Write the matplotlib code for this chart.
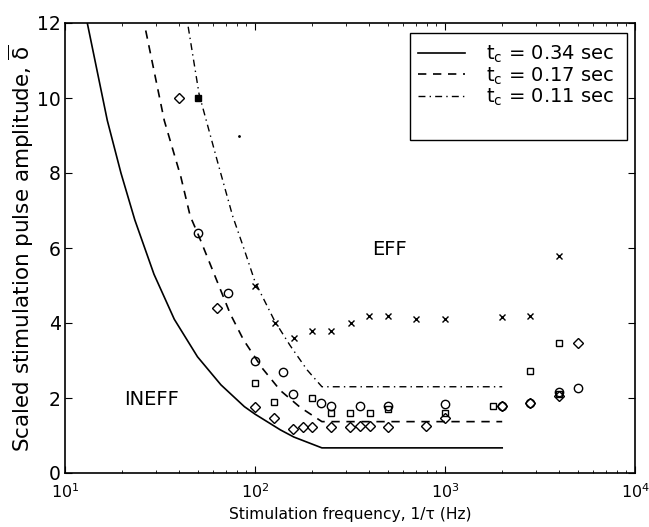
import matplotlib
matplotlib.use("Agg")
import matplotlib.pyplot as plt
from matplotlib.patches import Rectangle
from matplotlib.ticker import LogLocator, FixedLocator

plt.rcParams['font.family'] = ['DejaVu Sans']
plt.rcParams['mathtext.default'] = 'regular'

# threshold curves
solid_x = [13.1, 16.7, 19.7, 23.3, 29.4, 37.6, 49.8, 66.2, 87.9, 100, 136, 160, 225, 2000]
solid_y = [12.0, 9.4, 8.0, 6.75, 5.3, 4.1, 3.1, 2.35, 1.77, 1.57, 1.15, 0.96, 0.67, 0.67]

dashed_x = [26.6, 33.3, 40.7, 45.6, 50.8, 74, 87, 109, 136, 173, 225, 2000]
dashed_y = [11.8, 9.4, 7.9, 6.85, 6.3, 4.25, 3.55, 2.8, 2.2, 1.75, 1.37, 1.37]

dashdot_x = [44.5, 50.8, 63.5, 76.3, 87.9, 100, 127, 153, 188, 225, 2000]
dashdot_y = [11.9, 10.1, 8.3, 6.85, 5.95, 5.1, 4.05, 3.4, 2.75, 2.3, 2.3]

# measured points
cross_x = [100, 127, 160, 200, 250, 320, 400, 500, 700, 1000, 2000, 2800, 4000]
cross_y = [5.0, 4.0, 3.6, 3.8, 3.8, 4.0, 4.2, 4.2, 4.1, 4.1, 4.15, 4.2, 5.8]

circle_x = [50, 72, 100, 141, 158, 223, 251, 356, 500, 1000, 2000, 2800, 4000, 5000]
circle_y = [6.4, 4.8, 3.0, 2.7, 2.1, 1.88, 1.8, 1.8, 1.8, 1.84, 1.8, 1.87, 2.17, 2.27]

square_x = [100, 126, 200, 251, 318, 401, 500, 1000, 1780, 2800, 4000, 4000]
square_y = [2.4, 1.9, 2.0, 1.6, 1.6, 1.6, 1.7, 1.6, 1.78, 2.72, 3.47, 2.12]

diamond_x = [40, 63, 100, 126, 158, 178, 200, 251, 318, 356, 401, 500, 790, 1000, 2000, 2800, 4000, 5000]
diamond_y = [10.0, 4.4, 1.75, 1.48, 1.17, 1.22, 1.22, 1.22, 1.24, 1.25, 1.25, 1.24, 1.25, 1.46, 1.78, 1.87, 2.05, 3.46]

filled_x = [50]
filled_y = [10.0]

dot_x = [82]
dot_y = [9.0]

labels = ['t$_c$ = 0.34 sec', 't$_c$ = 0.17 sec', 't$_c$ = 0.11 sec']

fig = plt.figure(figsize=(6.49, 5.27), dpi=100)
ax = fig.add_axes([65 / 649, 1 - 473 / 527, 570 / 649, 450 / 527])

ax.plot(solid_x, solid_y, '-', color='black', lw=1.2, label=labels[0])
ax.plot(dashed_x, dashed_y, '--', color='black', lw=1.2, dashes=(5, 4), label=labels[1])
ax.plot(dashdot_x, dashdot_y, '-.', color='black', lw=1.0, dashes=(5, 3, 1, 3), label=labels[2])

mk = dict(linestyle='none', color='black', mfc='none', mew=1.0)
ax.plot(cross_x, cross_y, marker='x', ms=4.5, **mk)
ax.plot(circle_x, circle_y, marker='o', ms=6, **mk)
ax.plot(square_x, square_y, marker='s', ms=5, **mk)
ax.plot(diamond_x, diamond_y, marker='D', ms=5, **mk)
ax.plot(filled_x, filled_y, 's', color='black', ms=5)
ax.plot(dot_x, dot_y, '.', color='black', ms=2)

ax.text(28.6, 1.95, 'INEFF', fontsize=14, ha='center', va='center')
ax.text(511, 5.95, 'EFF', fontsize=14, ha='center', va='center')

ax.set_xscale('log')
ax.set_xlim(10, 10000)
ax.set_ylim(0, 12)
ax.yaxis.set_major_locator(FixedLocator([0, 2, 4, 6, 8, 10, 12]))
ax.xaxis.set_major_locator(LogLocator(base=10))
ax.xaxis.set_minor_locator(LogLocator(base=10, subs=range(2, 10)))
ax.tick_params(which='both', direction='in', top=True, right=True)
ax.tick_params(which='major', length=5)
ax.tick_params(which='minor', length=2.5)
ax.tick_params(axis='x', pad=7, labelsize=11.5)
ax.tick_params(axis='y', pad=3, labelsize=13.5)
for s in ax.spines.values():
    s.set_linewidth(1.2)

ax.set_xlabel('Stimulation frequency, 1/τ (Hz)', fontsize=11.2, labelpad=4)
ax.set_ylabel(r'Scaled stimulation pulse amplitude, $\overline{\delta}$', fontsize=15.5, labelpad=1)

leg = ax.legend(loc='upper left', bbox_to_anchor=((418 - 65) / 570, (473 - 44) / 450),
                fontsize=14, frameon=False, borderpad=0, borderaxespad=0,
                handlelength=2.4, labelspacing=0.0, handletextpad=1.1)
ax.add_patch(Rectangle(((410 - 65) / 570, (473 - 140) / 450), (627 - 410) / 570, (140 - 33) / 450,
                       transform=ax.transAxes, fill=False, edgecolor='black', lw=1.0, zorder=5))

fig.savefig('out.png', dpi=100)
